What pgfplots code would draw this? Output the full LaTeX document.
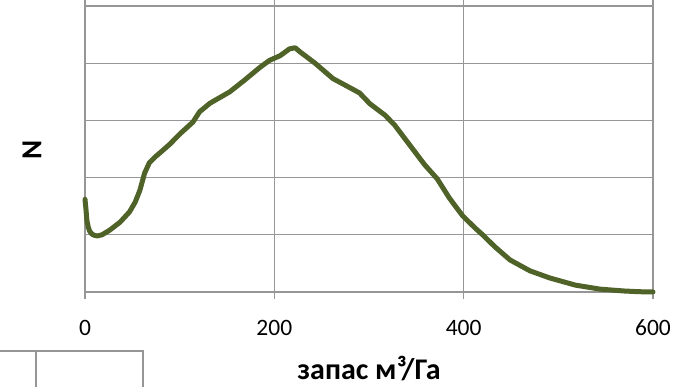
\documentclass[border=0pt]{standalone}
\usepackage{pgfplots}
\pgfplotsset{compat=1.18}
\usepackage{fontspec}
\setmainfont{Carlito}
\definecolor{curve}{RGB}{79,98,40}
\definecolor{gridc}{RGB}{150,150,150}
\begin{document}
\begin{tikzpicture}[x=1pt,y=1pt]
\path[use as bounding box] (0,0) rectangle (689,387);
\begin{axis}[
  at={(85pt,95pt)}, anchor=south west,
  scale only axis, width=568pt, height=286pt,
  xmin=0, xmax=600, ymin=0, ymax=5,
  xtick={0,200,400,600}, ytick={0,1,2,3,4,5},
  yticklabels={}, 
  ytick style={draw=none},
  xtick style={gridc, line width=1.3pt},
  tick align=outside, major tick length=7pt,
  grid=major,
  major grid style={gridc, line width=1.3pt},
  axis line style={gridc, line width=1.3pt},
  xticklabel style={font=\fontsize{23.5}{28}\selectfont, anchor=base, yshift=-37pt},
  /pgf/number format/assume math mode=true,
  xlabel={\textbf{запас м³/Га}},
  xlabel style={font=\fontsize{30}{35}\selectfont, inner sep=0pt, at={(axis description cs:0.5,0)}, anchor=base, yshift=-88pt},
  ylabel={\textbf{N}},
  ylabel style={font=\fontsize{29}{34}\selectfont, at={(axis description cs:-0.0933,0.496)}, anchor=center},
  clip=false,
]
\addplot[curve, line width=5pt, line join=round, line cap=round] coordinates {
(0,1.62) (1,1.45) (2,1.25) (3.5,1.13) (5,1.06) (7.5,1.01) (10,0.99) (13,0.98)
(18,1.00) (26,1.08) (37,1.22) (47,1.40) (53,1.57) (58,1.78) (63,2.08) (68,2.26)
(74,2.36) (79,2.43) (90,2.59) (100,2.76) (114,2.97) (121,3.15) (132,3.30)
(153,3.50) (169,3.71) (185,3.93) (195,4.05) (206,4.13) (216,4.25) (222,4.27)
(227,4.20) (243,4.00) (262,3.73) (280,3.57) (290,3.48) (301,3.29) (317,3.09)
(327,2.92) (343,2.57) (359,2.22) (372,1.98) (385,1.64) (399,1.33) (412,1.12)
(420,1.00) (433,0.79) (449,0.56) (470,0.37) (491,0.245) (518,0.12) (544,0.05)
(570,0.017) (585,0.005) (600,0.0)
};
\end{axis}
\draw[gridc, line width=1.3pt] (0,36) -- (143,36) -- (143,0);
\draw[gridc, line width=1.3pt] (36,36) -- (36,0);
\end{tikzpicture}
\end{document}
